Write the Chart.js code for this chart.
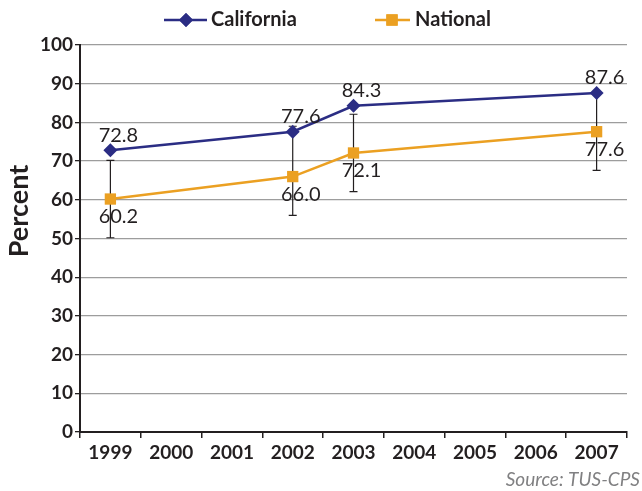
<!DOCTYPE html>
<html>
<head>
<meta charset="utf-8">
<script src="https://cdn.jsdelivr.net/npm/chart.js@4.4.0/dist/chart.umd.min.js"></script>
<style>
  html, body { margin: 0; padding: 0; background: #fff; }
</style>
</head>
<body>
<canvas id="chart" width="642" height="491"></canvas>
<script>
// data
const years = ['1999', '2000', '2001', '2002', '2003', '2004', '2005', '2006', '2007'];
const california = [72.8, null, null, 77.6, 84.3, null, null, null, 87.6];
const national = [60.2, null, null, 66.0, 72.1, null, null, null, 77.6];
const nationalLow = [50.2, null, null, 56.0, 62.1, null, null, null, 67.6];
const nationalHigh = [70.2, null, null, 79.0, 82.1, null, null, null, 87.6];
const yTicks = [0, 10, 20, 30, 40, 50, 60, 70, 80, 90, 100];

const FONT = 'Lato';
const DARK = '#231f20';
const NAVY = '#2b2d84';
const ORANGE = '#eba022';

// error bars on the national series
const errorBars = {
    id: 'errorBars',
    beforeDatasetsDraw(chart) {
        const ctx = chart.ctx;
        const x = chart.scales.x, y = chart.scales.y;
        ctx.save();
        ctx.strokeStyle = DARK;
        ctx.lineWidth = 1.2;
        nationalLow.forEach((lo, i) => {
            const hi = nationalHigh[i];
            if (lo == null || hi == null) return;
            const px = x.getPixelForValue(i);
            const y1 = y.getPixelForValue(lo);
            const y2 = y.getPixelForValue(hi);
            ctx.beginPath();
            ctx.moveTo(px, y1); ctx.lineTo(px, y2);
            ctx.moveTo(px - 4, y1); ctx.lineTo(px + 4, y1);
            ctx.moveTo(px - 4, y2); ctx.lineTo(px + 4, y2);
            ctx.stroke();
        });
        ctx.restore();
    }
};

// value labels next to the points
const valueLabels = {
    id: 'valueLabels',
    afterDatasetsDraw(chart) {
        const ctx = chart.ctx;
        ctx.save();
        ctx.font = '20px ' + FONT;
        ctx.fillStyle = DARK;
        ctx.textAlign = 'center';
        ctx.textBaseline = 'middle';
        chart.data.datasets.forEach((ds, d) => {
            const meta = chart.getDatasetMeta(d);
            meta.data.forEach((pt, i) => {
                const v = ds.data[i];
                if (v == null) return;
                ctx.fillText(v.toFixed(1), pt.x + 8, pt.y + ds.labelDy);
            });
        });
        ctx.restore();
    }
};

// legend with line + marker, axis title and the source note
const extras = {
    id: 'extras',
    afterDraw(chart) {
        const ctx = chart.ctx;
        ctx.save();
        const items = [
            { x0: 164, x1: 207, mx: 186, text: 'California', tx: 211, ds: chart.data.datasets[0] },
            { x0: 375, x1: 410, mx: 392, text: 'National', tx: 415, ds: chart.data.datasets[1] }
        ];
        const ly = 20;
        items.forEach(it => {
            ctx.strokeStyle = it.ds.borderColor;
            ctx.lineWidth = 2.5;
            ctx.beginPath();
            ctx.moveTo(it.x0, ly); ctx.lineTo(it.x1, ly);
            ctx.stroke();
            ctx.fillStyle = it.ds.borderColor;
            ctx.beginPath();
            Chart.helpers.drawPoint(ctx, { pointStyle: it.ds.pointStyle, radius: it.ds.pointRadius, borderWidth: 0 }, it.mx, ly);
            ctx.fill();
            ctx.fillStyle = DARK;
            ctx.font = 'bold 20px ' + FONT;
            ctx.textAlign = 'left';
            ctx.textBaseline = 'middle';
            ctx.fillText(it.text, it.tx, ly);
        });

        // y axis title
        ctx.save();
        ctx.translate(19, 211);
        ctx.rotate(-Math.PI / 2);
        ctx.font = 'bold 27px ' + FONT;
        ctx.fillStyle = DARK;
        ctx.textAlign = 'center';
        ctx.textBaseline = 'middle';
        ctx.fillText('Percent', 0, 0);
        ctx.restore();

        ctx.font = 'italic 19px ' + FONT;
        ctx.fillStyle = '#808082';
        ctx.textAlign = 'right';
        ctx.textBaseline = 'middle';
        ctx.fillText('Source: TUS-CPS', 640, 480);
        ctx.restore();
    }
};

new Chart(document.getElementById('chart'), {
    type: 'line',
    data: {
        labels: years,
        datasets: [{
            label: 'California',
            data: california,
            borderColor: NAVY,
            backgroundColor: NAVY,
            pointStyle: 'rectRot',
            pointRadius: 7,
            pointBorderWidth: 0,
            borderWidth: 2.5,
            spanGaps: true,
            labelDy: -15
        }, {
            label: 'National',
            data: national,
            borderColor: ORANGE,
            backgroundColor: ORANGE,
            pointStyle: 'rect',
            pointRadius: 8,
            pointBorderWidth: 0,
            borderWidth: 2.5,
            spanGaps: true,
            labelDy: 18
        }]
    },
    options: {
        responsive: false,
        animation: false,
        devicePixelRatio: 1,
        layout: { padding: { top: 45, right: 15, left: 0, bottom: 0 } },
        plugins: {
            legend: { display: false },
            tooltip: { enabled: false }
        },
        scales: {
            x: {
                type: 'category',
                offset: true,
                afterFit: s => { s.height = 59; },
                grid: {
                    offset: true,
                    drawOnChartArea: false,
                    drawTicks: true,
                    tickLength: 6,
                    tickColor: DARK,
                    lineWidth: 1.5
                },
                border: { color: DARK, width: 2 },
                ticks: {
                    color: DARK,
                    padding: 3,
                    maxRotation: 0,
                    font: { family: FONT, size: 19, weight: 'bold' }
                }
            },
            y: {
                min: 0,
                max: 100,
                afterFit: s => { s.width = 80; },
                afterBuildTicks: s => { s.ticks = yTicks.map(v => ({ value: v })); },
                grid: {
                    color: '#9d9d9d',
                    lineWidth: 1.3,
                    tickColor: DARK,
                    tickLength: 5
                },
                border: { color: DARK, width: 2 },
                ticks: {
                    color: DARK,
                    padding: 2,
                    font: { family: FONT, size: 19, weight: 'bold' }
                }
            }
        }
    },
    plugins: [errorBars, valueLabels, extras]
});
</script>
</body>
</html>
